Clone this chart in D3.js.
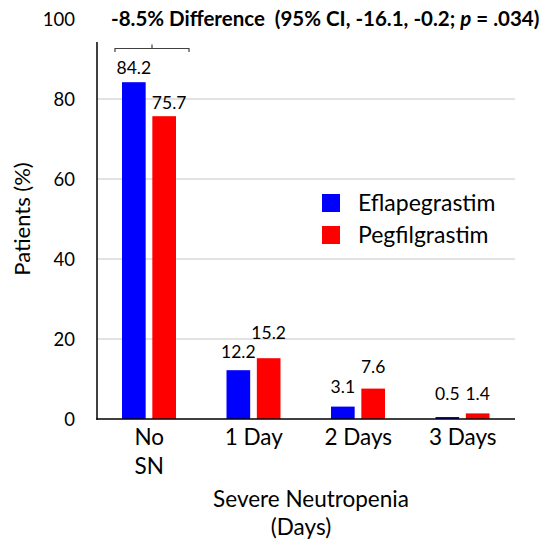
<!DOCTYPE html>
<html>
<head>
<meta charset="utf-8">
<script src="https://cdn.jsdelivr.net/npm/d3@7"></script>
<style>
  body { margin: 0; background: #fff; }
  text { font-family: Lato, "Open Sans", sans-serif; fill: #000; }
</style>
</head>
<body>
<div id="chart"></div>
<script>
// data
var categories = ["No SN", "1 Day", "2 Days", "3 Days"];
var seriesNames = ["Eflapegrastim", "Pegfilgrastim"];
var eflapegrastim = [84.2, 12.2, 3.1, 0.5];
var pegfilgrastim = [75.7, 15.2, 7.6, 1.4];
var yTicks = [0, 20, 40, 60, 80, 100];
var colors = ["#0000ff", "#ff0000"];

// label lift above each bar (px), hand-placed like the original
var labelLift = [[8, 7], [12, 19], [14, 16], [17, 13]];

function init(){
	var w = 545, h = 540;

	var x0 = d3.scaleBand()
		.domain(categories)
		.range([97, 515])
		.padding(0);

	var x1 = d3.scaleBand()   // bars inside a group
		.domain(seriesNames)
		.range([25, 79])
		.paddingInner(0.22);

	var y = d3.scaleLinear()
		.domain([0, 100])
		.range([419, 19]);

	var svg = d3.select("#chart")
		.append("svg")
		.attr("width", w)
		.attr("height", h);

	// gridlines
	svg.selectAll("line.grid")
		.data(yTicks.filter(function(d){ return d > 0 && d < 100; }))
		.enter()
		.append("line")
		.attr("class", "grid")
		.attr("x1", 97).attr("x2", 515)
		.attr("y1", function(d){ return y(d); })
		.attr("y2", function(d){ return y(d); })
		.attr("stroke", "#d9d9d9")
		.attr("stroke-width", 1.3);

	// y tick labels
	svg.selectAll("text.ytick")
		.data(yTicks)
		.enter()
		.append("text")
		.attr("class", "ytick")
		.attr("x", 75)
		.attr("y", function(d){ return y(d); })
		.attr("dy", "0.38em")
		.attr("text-anchor", "end")
		.attr("font-size", 18.5)
		.text(function(d){ return d; });

	// bars
	var rows = categories.map(function(c, i){
		return [eflapegrastim[i], pegfilgrastim[i]].map(function(v, j){
			return {cat: c, ser: seriesNames[j], v: v, i: i, j: j};
		});
	});

	var groups = svg.selectAll("g.grp")
		.data(rows)
		.enter()
		.append("g")
		.attr("class", "grp")
		.attr("transform", function(d, i){ return "translate(" + x0(categories[i]) + ",0)"; });

	groups.selectAll("rect")
		.data(function(d){ return d; })
		.enter()
		.append("rect")
		.attr("x", function(d){ return x1(d.ser); })
		.attr("y", function(d){ return y(d.v); })
		.attr("width", x1.bandwidth())
		.attr("height", function(d){ return y(0) - y(d.v); })
		.attr("fill", function(d){ return colors[d.j]; });

	groups.selectAll("text")
		.data(function(d){ return d; })
		.enter()
		.append("text")
		.attr("x", function(d){ return x1(d.ser) + x1.bandwidth() / 2 + (d.i === 0 && d.j === 1 ? 5 : 0); })
		.attr("y", function(d){ return y(d.v) - labelLift[d.i][d.j]; })
		.attr("text-anchor", "middle")
		.attr("font-size", 17.5)
		.text(function(d){ return d.v.toFixed(1); });

	// axes lines
	svg.append("line")
		.attr("x1", 97).attr("x2", 97)
		.attr("y1", 42).attr("y2", y(0) + 0.7)
		.attr("stroke", "#000").attr("stroke-width", 1.5);
	svg.append("line")
		.attr("x1", 96.3).attr("x2", 515)
		.attr("y1", y(0)).attr("y2", y(0))
		.attr("stroke", "#000").attr("stroke-width", 1.5);

	// x category labels
	svg.selectAll("text.xcat")
		.data(categories)
		.enter()
		.append("text")
		.attr("class", "xcat")
		.attr("text-anchor", "middle")
		.attr("font-size", 22.5)
		.attr("x", function(d){ return x0(d) + x0.bandwidth() / 2; })
		.attr("y", 445)
		.each(function(d){
			var lines = d === "No SN" ? ["No", "SN"] : [d];
			var t = d3.select(this);
			lines.forEach(function(s, k){
				t.append("tspan")
					.attr("x", x0(d) + x0.bandwidth() / 2)
					.attr("dy", k === 0 ? 0 : 28.5)
					.text(s);
			});
		});

	// axis titles
	svg.append("text")
		.attr("text-anchor", "middle")
		.attr("font-size", 22.5)
		.attr("x", 311).attr("y", 507)
		.text("Severe Neutropenia");
	svg.append("text")
		.attr("text-anchor", "middle")
		.attr("font-size", 22.5)
		.attr("x", 301).attr("y", 535)
		.text("(Days)");
	svg.append("text")
		.attr("text-anchor", "middle")
		.attr("font-size", 22)
		.attr("transform", "translate(30,219) rotate(-90)")
		.text("Patients (%)");

	// difference bracket over the first group
	var bx0 = x0(categories[0]) + 18, bx1 = x0(categories[0]) + 92;
	var bm = (bx0 + bx1) / 2;
	svg.append("path")
		.attr("d", "M" + bx0 + ",52 L" + bx0 + ",48.5 L" + bx1 + ",48.5 L" + bx1 + ",52 M" + bm + ",48.5 L" + bm + ",44.5")
		.attr("fill", "none")
		.attr("stroke", "#404040")
		.attr("stroke-width", 1.2);

	var title = svg.append("text")
		.attr("x", 111).attr("y", 26)
		.attr("font-size", 20.5)
		.attr("font-weight", "bold")
		.style("white-space", "pre");
	title.append("tspan").text("-8.5% Difference  (95% CI, -16.1, -0.2; ");
	title.append("tspan").attr("font-style", "italic").text("p");
	title.append("tspan").text(" = .034)");

	// legend
	var legend = svg.selectAll("g.leg")
		.data(seriesNames)
		.enter()
		.append("g")
		.attr("class", "leg")
		.attr("transform", function(d, i){ return "translate(322," + (194 + i * 32) + ")"; });
	legend.append("rect")
		.attr("width", 18).attr("height", 18)
		.attr("fill", function(d, i){ return colors[i]; });
	legend.append("text")
		.attr("x", 36).attr("y", 9)
		.attr("dy", "0.36em")
		.attr("font-size", 23)
		.text(function(d){ return d; });
}

window.onload = init;
</script>
</body>
</html>
